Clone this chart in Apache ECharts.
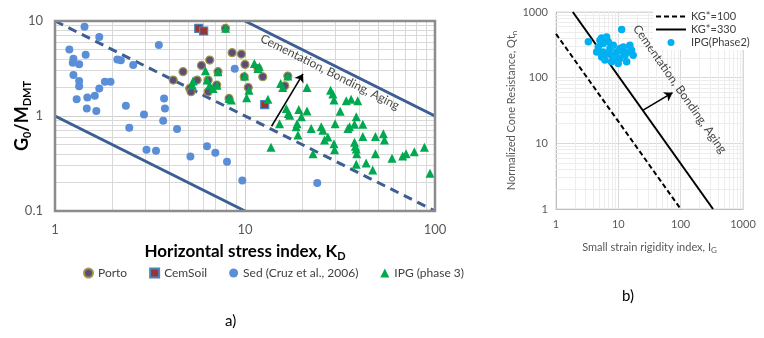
<!DOCTYPE html>
<html>
<head>
<meta charset="utf-8">
<script src="https://cdn.jsdelivr.net/npm/echarts@6/dist/echarts.min.js"></script>
<style>
  html, body { margin: 0; padding: 0; background: #fff; }
  #chart { width: 764px; height: 338px; }
</style>
</head>
<body>
<div id="chart"></div>
<script>
// ---- panel a) G0/MDMT vs KD ----
const portoPoints = [[4.19, 2.39], [4.72, 2.93], [5.9, 3.41], [6.52, 3.88], [5.6, 2.39], [5.12, 1.95], [5.2, 1.8],
  [6.4, 1.8], [6.4, 2.39], [7.21, 2.93], [8.55, 4.64], [9.57, 4.49], [10.0, 3.49], [9.9, 2.59], [10.4, 2.0],
  [8.24, 1.53], [11.7, 3.16], [12.4, 2.59], [16.2, 2.08], [16.8, 2.63], [7.89, 8.37], [7.1, 2.12]]
const cemSoilPoints = [[5.71, 8.37], [6.06, 7.85], [12.7, 1.32]]
const sedPoints = [[1.43, 8.7], [1.71, 6.8], [1.19, 5.0], [1.25, 4.0], [1.24, 3.64], [1.34, 3.5], [1.45, 4.4],
  [1.25, 2.7], [1.34, 2.33], [1.34, 2.06], [1.30, 1.5], [1.48, 1.57], [1.62, 1.63], [1.71, 1.95], [1.83, 2.29],
  [1.96, 2.29], [1.47, 1.2], [1.65, 1.13], [2.13, 3.94], [2.22, 3.87], [2.58, 3.44], [3.52, 5.58], [2.36, 1.28],
  [2.94, 1.04], [2.46, 0.75], [3.75, 1.53], [3.79, 1.2], [3.71, 0.89], [4.39, 0.73], [3.03, 0.44], [3.4, 0.43],
  [5.16, 0.374], [6.31, 0.48], [6.98, 0.41], [8.04, 0.33], [9.68, 0.21], [24, 0.197], [8.83, 3.14]]
const ipg3Points = [[7.91, 8.37], [6.19, 2.99], [7.21, 2.92], [5.33, 2.33], [5.29, 2.11], [6.31, 2.39], [6.52, 2.11],
  [6.79, 1.95], [7.13, 2.11], [8.24, 1.53], [8.47, 1.47], [9.96, 2.63], [10.2, 1.56], [10.5, 1.87], [11.2, 3.58],
  [11.7, 3.17], [11.9, 3.30], [13.2, 1.50], [15.4, 2.20], [15.8, 2.0], [16.8, 2.63], [16.5, 1.20], [16.9, 1.06],
  [17.2, 1.02], [19.2, 1.17], [19.8, 0.98], [21.2, 2.0], [21.2, 1.13], [15.2, 0.83], [13.7, 0.47], [18.8, 0.83],
  [18.6, 0.77], [19.0, 0.63], [22.3, 0.74], [25.2, 0.77], [25.7, 0.71], [26.2, 0.56], [27.3, 0.60], [29.8, 0.83],
  [29.4, 0.51], [29.6, 0.44], [22.8, 0.40], [28.2, 1.87], [29.0, 1.70], [29.4, 1.47], [34.1, 1.45], [36.2, 1.50],
  [39.2, 1.45], [31.7, 1.12], [34.8, 0.74], [35.5, 0.77], [37.7, 0.82], [38.5, 0.98], [41.7, 0.82], [41.7, 0.61],
  [37.7, 0.53], [38.1, 0.48], [38.5, 0.45], [38.7, 0.40], [38.5, 0.31], [43.4, 0.32], [47.0, 0.27], [48.6, 0.61],
  [48.6, 0.40], [53.5, 0.65], [54.2, 0.56], [59.4, 0.36], [67.6, 0.38], [70.4, 0.40], [77.8, 0.42], [87.9, 0.47],
  [94.1, 0.25]]
const lowerBound = [[1, 1], [10, 0.1]]
const midBound = [[1, 10], [100, 0.1]]
const upperBound = [[10, 10], [100, 1]]
const arrowA = [[13.8, 0.78], [20.2, 2.77]]
const noteA = [28, 2.9]
const minorXA = [2, 3, 4, 5, 6, 7, 8, 9, 20, 30, 40, 50, 60, 70, 80, 90]
const minorYA = [0.2, 0.3, 0.4, 0.5, 0.6, 0.7, 0.8, 0.9, 2, 3, 4, 5, 6, 7, 8, 9]

// ---- panel b) Qtn vs IG ----
const ipg2Points = [[3.30, 351], [5.40, 403], [6.49, 418], [5.73, 331], [4.76, 294], [4.49, 247], [5.73, 247],
  [5.40, 207], [6.10, 185], [7.33, 279], [7.80, 220], [8.28, 313], [8.83, 196], [9.38, 247], [10.6, 279],
  [10.6, 196], [12.0, 294], [12.8, 220], [13.6, 174], [15.3, 313], [16.3, 262], [17.3, 220], [14.4, 247],
  [6.89, 233], [9.96, 165], [7.80, 174], [11.3, 541], [5.07, 372], [6.89, 351], [12.0, 247]]
const kg100 = [[1, 464], [100, 1]]
const kg330 = [[1.86, 1000], [330, 1]]
const arrowB = [[25, 32], [74, 59]]
const noteB = [97, 67]
const minorB = [2, 3, 4, 5, 6, 7, 8, 9, 20, 30, 40, 50, 60, 70, 80, 90, 200, 300, 400, 500, 600, 700, 800, 900]

const FONT = 'Lato, "Open Sans", sans-serif'
const NOTE = 'Cementation, Bonding, Aging'

const chart = echarts.init(document.getElementById('chart'))

// minor grid lines drawn as markLines, kept under the data
function gridLines(xs, ys, color) {
  return {
    silent: true,
    z: 1,
    symbol: 'none',
    label: { show: false },
    emphasis: { disabled: true },
    lineStyle: { color: color, width: 1, type: 'solid' },
    data: xs.map(v => ({ xAxis: v })).concat(ys.map(v => ({ yAxis: v })))
  }
}

function arrow(pts, width) {
  return {
    silent: true,
    z: 6,
    symbol: ['none', 'arrow'],
    symbolSize: 8,
    label: { show: false },
    lineStyle: { color: '#000', width: width, type: 'solid' },
    data: [[{ coord: pts[0] }, { coord: pts[1] }]]
  }
}

const subRich = (size, pad, weight) => ({ sub: { fontSize: size, fontWeight: weight, fontFamily: FONT, padding: [pad, 0, 0, 0] }})
const plain = v => String(v)

chart.setOption({
  animation: false,
  textStyle: { fontFamily: FONT },
  title: [
    { text: 'a)', left: 220, top: 309, textStyle: { fontSize: 15, fontWeight: 'normal', color: '#000', fontFamily: FONT }},
    { text: 'b)', left: 617, top: 284, textStyle: { fontSize: 15, fontWeight: 'normal', color: '#000', fontFamily: FONT }}
  ],
  legend: [{
    left: 78,
    top: 262,
    itemWidth: 9,
    itemHeight: 9,
    itemGap: 22,
    textStyle: { fontSize: 12, color: '#404040', fontFamily: FONT },
    data: ['Porto', 'CemSoil', 'Sed (Cruz et al., 2006)', 'IPG (phase 3)']
  }, {
    left: 653,
    top: 9,
    orient: 'vertical',
    padding: [2, 3, 2, 2],
    backgroundColor: '#fff',
    itemWidth: 30,
    itemHeight: 7,
    itemGap: 2,
    z: 10,
    textStyle: { fontSize: 11, color: '#404040', fontFamily: FONT },
    data: [
      { name: 'KG*=100', itemStyle: { opacity: 0 }},
      { name: 'KG*=330', itemStyle: { opacity: 0 }},
      { name: 'IPG(Phase2)', icon: 'circle' }
    ]
  }],
  grid: [
    { left: 55, top: 21, width: 380, height: 190, show: true, borderColor: '#8C8C8C', borderWidth: 2.5, z: 5 },
    { left: 556, top: 12, width: 187, height: 197, show: true, borderColor: '#D9D9D9', borderWidth: 1 }
  ],
  xAxis: [{
    type: 'log', gridIndex: 0, logBase: 10, min: 1, max: 100,
    axisLine: { show: false }, axisTick: { show: false },
    splitLine: { show: true, lineStyle: { color: '#CFCFCF' }},
    axisLabel: { color: '#595959', fontSize: 13, margin: 12, formatter: plain },
    name: 'Horizontal stress index, K{sub|D}', nameLocation: 'middle', nameGap: 30, nameMoveOverlap: false,
    nameTextStyle: { fontSize: 17, fontWeight: 'bold', color: '#000', rich: subRich(11, 10, 'bold') }
  }, {
    type: 'log', gridIndex: 1, logBase: 10, min: 1, max: 1000,
    axisLine: { show: true, lineStyle: { color: '#BFBFBF' }}, axisTick: { show: false },
    splitLine: { show: true, lineStyle: { color: '#D9D9D9' }},
    axisLabel: { color: '#595959', fontSize: 11, margin: 10, formatter: plain },
    name: 'Small strain rigidity index, I{sub|G}', nameLocation: 'middle', nameGap: 31, nameMoveOverlap: false,
    nameTextStyle: { fontSize: 11, color: '#595959', rich: subRich(8, 6, 'normal') }
  }],
  yAxis: [{
    type: 'log', gridIndex: 0, logBase: 10, min: 0.1, max: 10,
    axisLine: { show: false }, axisTick: { show: false },
    splitLine: { show: true, lineStyle: { color: '#CFCFCF' }},
    axisLabel: { color: '#595959', fontSize: 13, margin: 12, formatter: plain },
    name: 'G{sub|0}/M{sub|DMT}', nameLocation: 'middle', nameGap: 22, nameRotate: 90, nameMoveOverlap: false,
    nameTextStyle: { fontSize: 18, fontWeight: 'bold', color: '#000', rich: subRich(11, 10, 'bold') }
  }, {
    type: 'log', gridIndex: 1, logBase: 10, min: 1, max: 1000,
    axisLine: { show: true, lineStyle: { color: '#BFBFBF' }}, axisTick: { show: false },
    splitLine: { show: true, lineStyle: { color: '#D9D9D9' }},
    axisLabel: { color: '#595959', fontSize: 11, margin: 8, formatter: plain },
    name: 'Normalized Cone Resistance, Qt{sub|n}', nameLocation: 'middle', nameGap: 38, nameRotate: 90, nameMoveOverlap: false,
    nameTextStyle: { fontSize: 11, color: '#595959', rich: subRich(8, 6, 'normal') }
  }],
  series: [
    // panel a
    { name: 'gridA', type: 'line', xAxisIndex: 0, yAxisIndex: 0, data: [], z: 1, markLine: gridLines(minorXA, minorYA, '#D9D9D9') },
    { name: 'lowA', type: 'line', xAxisIndex: 0, yAxisIndex: 0, data: lowerBound, symbol: 'none', z: 3,
      lineStyle: { color: '#3B5E93', width: 3 }},
    { name: 'midA', type: 'line', xAxisIndex: 0, yAxisIndex: 0, data: midBound, symbol: 'none', z: 3,
      lineStyle: { color: '#3B5E93', width: 3, type: [9, 6] }},
    { name: 'upA', type: 'line', xAxisIndex: 0, yAxisIndex: 0, data: upperBound, symbol: 'none', z: 3,
      lineStyle: { color: '#3B5E93', width: 3 }},
    { name: 'Porto', type: 'scatter', xAxisIndex: 0, yAxisIndex: 0, data: portoPoints, symbol: 'circle', symbolSize: 8, z: 4,
      itemStyle: { color: '#604A7B', borderColor: '#9C9A48', borderWidth: 1.2, opacity: 1 }},
    { name: 'CemSoil', type: 'scatter', xAxisIndex: 0, yAxisIndex: 0, data: cemSoilPoints, symbol: 'rect', symbolSize: 8, z: 4,
      itemStyle: { color: '#953735', borderColor: '#4F81BD', borderWidth: 1.2, opacity: 1 }},
    { name: 'Sed (Cruz et al., 2006)', type: 'scatter', xAxisIndex: 0, yAxisIndex: 0, data: sedPoints, symbol: 'circle', symbolSize: 8, z: 4,
      itemStyle: { color: '#5A8FD8', opacity: 1 }},
    { name: 'IPG (phase 3)', type: 'scatter', xAxisIndex: 0, yAxisIndex: 0, data: ipg3Points, symbol: 'triangle', symbolSize: 9, z: 4,
      itemStyle: { color: '#00A84F', opacity: 1 }},
    { name: 'arrowA', type: 'line', xAxisIndex: 0, yAxisIndex: 0, data: [], z: 4, markLine: arrow(arrowA, 1.5) },
    { name: 'noteA', type: 'scatter', xAxisIndex: 0, yAxisIndex: 0, data: [noteA], symbolSize: 0, z: 6,
      label: { show: true, position: 'inside', formatter: NOTE, rotate: -26.6, fontSize: 12, color: '#111', fontFamily: FONT }},
    // panel b
    { name: 'gridB', type: 'line', xAxisIndex: 1, yAxisIndex: 1, data: [], z: 1, markLine: gridLines(minorB, minorB, '#EDEDED') },
    { name: 'KG*=100', type: 'line', xAxisIndex: 1, yAxisIndex: 1, data: kg100, symbol: 'none', z: 3,
      itemStyle: { color: '#000' }, lineStyle: { color: '#000', width: 2, type: [5, 3] }},
    { name: 'KG*=330', type: 'line', xAxisIndex: 1, yAxisIndex: 1, data: kg330, symbol: 'none', z: 3,
      itemStyle: { color: '#000' }, lineStyle: { color: '#000', width: 2 }},
    { name: 'IPG(Phase2)', type: 'scatter', xAxisIndex: 1, yAxisIndex: 1, data: ipg2Points, symbol: 'circle', symbolSize: 7.5, z: 4,
      itemStyle: { color: '#00B0F0', opacity: 1 }},
    { name: 'arrowB', type: 'line', xAxisIndex: 1, yAxisIndex: 1, data: [], z: 4, markLine: arrow(arrowB, 1.5) },
    { name: 'noteB', type: 'scatter', xAxisIndex: 1, yAxisIndex: 1, data: [noteB], symbolSize: 0, z: 6,
      label: { show: true, position: 'inside', formatter: NOTE, rotate: -55, fontSize: 12, color: '#111', fontFamily: FONT }}
  ]
})
</script>
</body>
</html>
